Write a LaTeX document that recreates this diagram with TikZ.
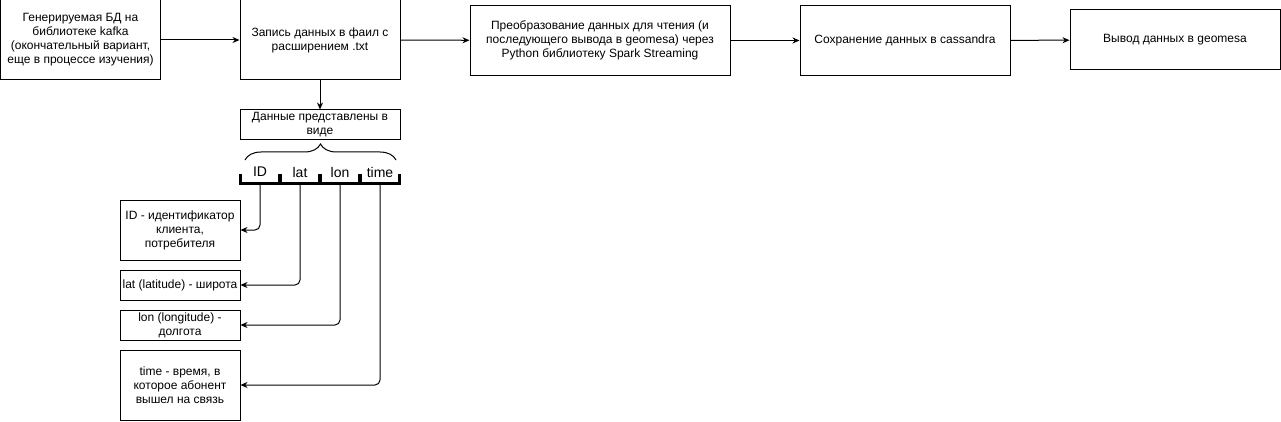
\documentclass[tikz,border=0pt]{standalone}
\usepackage{fontspec}
\setmainfont{Liberation Sans}
\usetikzlibrary{arrows.meta,decorations.pathreplacing}

\begin{document}
\begin{tikzpicture}[x=1pt, y=-1pt, >={Stealth[length=7pt,width=6pt]}, line width=1pt]
    \tikzstyle{box}=[draw, align=center, inner sep=2pt, font=\fontsize{12}{14}\selectfont]
    \tikzstyle{field}=[minimum width=38pt, minimum height=22pt, inner sep=0pt, font=\fontsize{14}{16}\selectfont]
    \tikzstyle{bracket}=[line width=2.5pt]

    \useasboundingbox (0,0) rectangle (1281,422);

    \node[box, minimum width=160pt, minimum height=80pt](gen) at (80.5, 40) {Генерируемая БД на\\библиотеке kafka\\(окончательный вариант,\\еще в процессе изучения)};
    \node[box, minimum width=160pt, minimum height=80pt](write) at (320, 40) {Запись данных в фаил с\\расширением .txt};
    \node[box, minimum width=260pt, minimum height=70pt](spark) at (600, 40.5) {Преобразование данных для чтения (и\\последующего вывода в geomesa) через\\Python библиотеку Spark Streaming};
    \node[box, minimum width=210pt, minimum height=70pt](cass) at (905, 40.5) {Сохранение данных в cassandra};
    \node[box, minimum width=210pt, minimum height=60pt](geo) at (1175, 40) {Вывод данных в geomesa};

    \draw [->] (gen) -- (write);
    \draw [->] (write) -- (spark);
    \draw [->] (spark) -- (cass);
    \draw [->] (cass) -- (geo);

    \node[box, minimum width=160pt, minimum height=30pt](data) at (320, 125) {Данные представлены в\\виде};
    \draw [->] (write) -- (data);

    \coordinate(br_l) at (245, 160);
    \coordinate(br_r) at (396, 160);
    \draw[decorate, decoration={brace, amplitude=16pt}] (br_l) -- (br_r);

    \node[field](f_id) at (260, 172) {ID};
    \node[field](f_lat) at (300, 172) {lat};
    \node[field](f_lon) at (340, 172) {lon};
    \node[field](f_time) at (380, 172) {time};
    \foreach \f in {f_id, f_lat, f_lon, f_time}
        \draw[bracket] ([yshift=9pt]\f.south west) -- (\f.south west) -- (\f.south east) -- ([yshift=9pt]\f.south east);

    \node[box, minimum width=120pt, minimum height=60pt](d_id) at (180, 230) {ID - идентификатор\\клиента,\\потребителя};
    \node[box, minimum width=120pt, minimum height=30pt](d_lat) at (180, 285) {lat (latitude) - широта};
    \node[box, minimum width=120pt, minimum height=30pt](d_lon) at (180, 325) {lon (longitude) -\\долгота};
    \node[box, minimum width=120pt, minimum height=70pt](d_time) at (180, 385) {time - время, в\\которое абонент\\вышел на связь};

    \draw [->, rounded corners=5pt] (f_id.south) |- (d_id.east);
    \draw [->, rounded corners=5pt] (f_lat.south) |- (d_lat.east);
    \draw [->, rounded corners=5pt] (f_lon.south) |- (d_lon.east);
    \draw [->, rounded corners=5pt] (f_time.south) |- (d_time.east);

\end{tikzpicture}
\end{document}
